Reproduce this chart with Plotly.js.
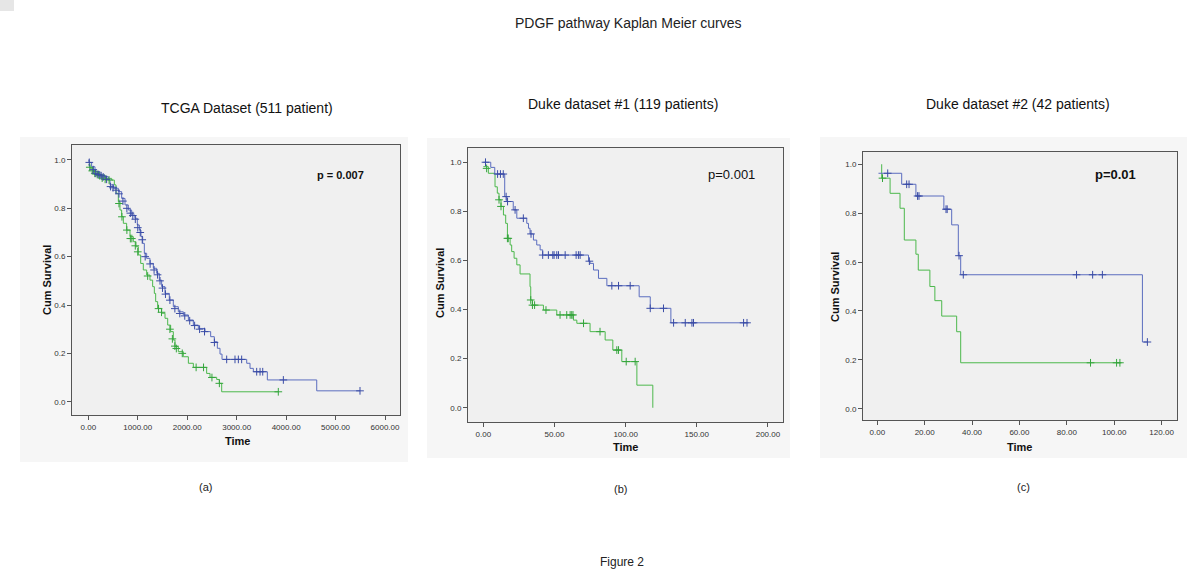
<!DOCTYPE html>
<html>
<head>
<meta charset="utf-8">
<script src="https://cdn.plot.ly/plotly-3.0.1.min.js"></script>
<style>html,body{margin:0;padding:0;background:#fff;}#chart{width:1200px;height:588px;}</style>
</head>
<body>
<div id="chart"></div>
<script>
// ---------- Panel (a): TCGA dataset ----------
const aBlueT = [0,13,67,135,236,337,405,438,506,607,674,742,809,876,944,991,1032,1065,1099,1133,1180,1247,1315,1382,1436,1483,1551,1638,1719,1820,1921,2023,2124,2225,2360,2474,2548,2609,2663,2704,3203,3270,3337,3620,4619,5494];
const aBlueS = [1.0,0.99,0.972,0.952,0.938,0.931,0.917,0.897,0.883,0.869,0.841,0.814,0.793,0.772,0.759,0.731,0.71,0.683,0.655,0.614,0.593,0.572,0.552,0.531,0.503,0.476,0.448,0.421,0.393,0.372,0.359,0.338,0.317,0.303,0.29,0.269,0.248,0.221,0.197,0.175,0.159,0.138,0.124,0.09,0.045,0.045];
const aBlueCensT = [20,100,150,200,260,300,370,450,500,560,620,700,780,850,900,950,1000,1050,1090,1150,1250,1330,1400,1450,1500,1560,1650,1750,1850,1950,2050,2150,2250,2350,2550,2798,2966,3034,3101,3405,3473,3527,3944,5494];
const aBlueCensS = [0.99,0.96,0.945,0.94,0.935,0.93,0.92,0.89,0.885,0.875,0.86,0.83,0.8,0.78,0.77,0.755,0.72,0.7,0.67,0.6,0.57,0.545,0.525,0.5,0.47,0.445,0.42,0.385,0.365,0.355,0.335,0.315,0.3,0.29,0.245,0.175,0.175,0.175,0.175,0.124,0.124,0.124,0.09,0.045];
const aGreenT = [0,34,101,202,337,472,526,560,607,640,674,708,775,843,910,964,1011,1059,1112,1180,1247,1301,1335,1362,1402,1483,1551,1605,1665,1719,1753,1820,1921,2023,2124,2393,2461,2596,2650,2697,3843];
const aGreenS = [0.98,0.966,0.952,0.938,0.924,0.917,0.897,0.862,0.828,0.793,0.766,0.738,0.71,0.683,0.662,0.641,0.607,0.572,0.545,0.524,0.503,0.476,0.448,0.414,0.386,0.366,0.345,0.317,0.29,0.255,0.228,0.207,0.186,0.159,0.142,0.117,0.101,0.092,0.076,0.041,0.041];
const aGreenCensT = [30,80,130,180,230,280,340,420,620,680,780,850,880,950,1000,1200,1420,1480,1650,1700,1750,1780,1900,2180,2330,2500,2650,3842];
const aGreenCensS = [0.97,0.955,0.945,0.94,0.935,0.925,0.92,0.917,0.82,0.765,0.71,0.675,0.675,0.645,0.62,0.52,0.385,0.37,0.3,0.26,0.23,0.22,0.2,0.142,0.142,0.1,0.076,0.041];

// ---------- Panel (b): Duke dataset #1 ----------
const bBlueT = [0,5.2,8,15,16.5,21,23.5,30.5,31.7,32.8,35.2,37.5,39.9,41.7,73.9,75,77.4,80.9,86.8,109.5,117.3,131.8,186.4];
const bBlueS = [1.0,0.979,0.952,0.86,0.84,0.806,0.772,0.751,0.731,0.708,0.683,0.663,0.643,0.622,0.597,0.588,0.561,0.527,0.497,0.452,0.405,0.346,0.346];
const bBlueCensT = [1.5,10,12,14,16,17,22.3,28.1,33.5,41.7,45.7,48.8,49.7,51.6,52.8,57.5,65.2,66.8,68,74.5,90.3,95,103.2,117.3,126.6,133.7,141.9,146.6,147.7,182.9,185.3];
const bBlueCensS = [1.0,0.952,0.952,0.952,0.86,0.84,0.806,0.772,0.708,0.622,0.622,0.622,0.622,0.622,0.622,0.622,0.622,0.622,0.622,0.597,0.497,0.497,0.497,0.405,0.405,0.346,0.346,0.346,0.346,0.346,0.346];
const bGreenT = [0,3.5,8.2,9.8,11,12.4,14.1,15.7,16.9,18.8,19.9,21.6,23.5,25.8,32.8,33.3,34.5,42.2,51.6,63.3,65.7,75,85.6,91,97.3,107.9,119.1];
const bGreenS = [0.982,0.955,0.9,0.874,0.847,0.82,0.785,0.751,0.69,0.663,0.636,0.609,0.582,0.545,0.493,0.439,0.418,0.398,0.378,0.357,0.344,0.31,0.276,0.235,0.188,0.092,0.0];
const bGreenCensT = [2.3,11,12.4,16.9,17.5,33.3,34.5,36,44,53.9,58.6,61,62.1,63,70.4,82,93.8,95,100.4,106.7];
const bGreenCensS = [0.975,0.847,0.82,0.69,0.69,0.439,0.418,0.418,0.398,0.378,0.378,0.378,0.378,0.378,0.344,0.31,0.235,0.235,0.188,0.188];

// ---------- Panel (c): Duke dataset #2 ----------
const cBlueT = [0.5,10.3,16.3,28.1,31.4,34.2,35.2,111.9,114];
const cBlueS = [0.963,0.918,0.87,0.816,0.752,0.626,0.548,0.273,0.273];
const cBlueCensT = [4.4,12.4,13.4,17,17.6,29,29.5,34.5,36.3,84.1,90.9,95,114];
const cBlueCensS = [0.963,0.918,0.918,0.87,0.87,0.816,0.816,0.626,0.548,0.548,0.548,0.548,0.273];
const cGreenT = [1.86,1.86,5.4,9.6,11.4,16.3,17.3,22.2,24.3,27.2,33.5,35.2,103.1];
const cGreenS = [1.0,0.943,0.881,0.82,0.69,0.632,0.567,0.5,0.442,0.379,0.315,0.188,0.188];
const cGreenCensT = [2.2,90,101,102.4];
const cGreenCensS = [0.943,0.188,0.188,0.188];

const titles = ["TCGA Dataset (511 patient)", "Duke dataset #1 (119 patients)", "Duke dataset #2 (42 patients)"];
const pTexts = ["<b>p = 0.007</b>", "p=0.001", "<b>p=0.01</b>"];
const panelLabels = ["(a)", "(b)", "(c)"];
const xTickVals = [[0,1000,2000,3000,4000,5000,6000],[0,50,100,150,200],[0,20,40,60,80,100,120]];
const yTickVals = [0,0.2,0.4,0.6,0.8,1.0];

// ---------- styling / layout ----------
const W = 1200, H = 588;
const BLUE_LINE = '#5b6dbf', BLUE_MARK = '#3a4ca6';
const GREEN_LINE = '#4cb84c', GREEN_MARK = '#34a53c';
const px = v => v / W, py = v => 1 - v / H;

const boxes = [[72,145,400,415],[468,148,783,422],[863,152,1177,420]];
const outers = [[20,137,408,462],[427,138,790,458],[820,137,1187,458]];
const xRanges = [[-330,6303],[-10.8,210.6],[-6.03,126.5]];
const yRanges = [[-0.055,1.062],[-0.058,1.058],[-0.046,1.05]];

const series = [
  [aBlueT,aBlueS,aBlueCensT,aBlueCensS,aGreenT,aGreenS,aGreenCensT,aGreenCensS],
  [bBlueT,bBlueS,bBlueCensT,bBlueCensS,bGreenT,bGreenS,bGreenCensT,bGreenCensS],
  [cBlueT,cBlueS,cBlueCensT,cBlueCensS,cGreenT,cGreenS,cGreenCensT,cGreenCensS]
];

const traces = [];
const layout = {
  width: W, height: H,
  margin: {l:0,r:0,t:0,b:0},
  paper_bgcolor: '#ffffff',
  plot_bgcolor: 'rgba(0,0,0,0)',
  showlegend: false,
  font: {family: 'Liberation Sans, Arial, sans-serif', color: '#333'},
  shapes: [], annotations: []
};

layout.shapes.push({type:'rect', xref:'paper', yref:'paper', x0:0, x1:px(14), y0:py(11), y1:1, fillcolor:'#e6e6e6', line:{width:0}, layer:'below'});

series.forEach((s, i) => {
  const n = i === 0 ? '' : String(i + 1);
  const xa = 'x' + n, ya = 'y' + n;
  const [bT,bS,bCT,bCS,gT,gS,gCT,gCS] = s;
  traces.push({x:gT, y:gS, xaxis:xa, yaxis:ya, mode:'lines', line:{shape:'hv', color:GREEN_LINE, width:1}, hoverinfo:'skip'});
  traces.push({x:bT, y:bS, xaxis:xa, yaxis:ya, mode:'lines', line:{shape:'hv', color:BLUE_LINE, width:1}, hoverinfo:'skip'});
  traces.push({x:gCT, y:gCS, xaxis:xa, yaxis:ya, mode:'markers', marker:{symbol:'cross-thin', size:5.5, color:GREEN_MARK, line:{color:GREEN_MARK, width:1}}, hoverinfo:'skip'});
  traces.push({x:bCT, y:bCS, xaxis:xa, yaxis:ya, mode:'markers', marker:{symbol:'cross-thin', size:5.5, color:BLUE_MARK, line:{color:BLUE_MARK, width:1}}, hoverinfo:'skip'});

  const b = boxes[i], o = outers[i];
  layout.shapes.push({type:'rect', xref:'paper', yref:'paper', x0:px(o[0]), x1:px(o[2]), y0:py(o[3]), y1:py(o[1]), fillcolor:'#f6f6f6', line:{width:0}, layer:'below'});
  layout.shapes.push({type:'rect', xref:'paper', yref:'paper', x0:px(b[0]), x1:px(b[2]), y0:py(b[3]), y1:py(b[1]), fillcolor:'#f0f0f0', line:{width:0}, layer:'below'});

  const axCommon = {showline:true, mirror:true, linecolor:'#555', linewidth:1, showgrid:false, zeroline:false,
                    ticks:'outside', ticklen:4, tickcolor:'#555', tickfont:{size:8, color:'#333'}, fixedrange:true};
  layout['xaxis' + n] = Object.assign({}, axCommon, {domain:[px(b[0]), px(b[2])], range:xRanges[i], anchor:ya,
                    tickmode:'array', tickvals:xTickVals[i], tickformat:'.2f'});
  layout['yaxis' + n] = Object.assign({}, axCommon, {domain:[py(b[3]), py(b[1])], range:yRanges[i], anchor:xa,
                    tickmode:'array', tickvals:yTickVals, tickformat:'.1f'});
});

function ann(text, x, y, size, opts) {
  layout.annotations.push(Object.assign({text:text, xref:'paper', yref:'paper', x:px(x), y:py(y),
    xanchor:'center', yanchor:'middle', showarrow:false, font:{size:size, color:'#222', family:'Liberation Sans, Arial, sans-serif'}}, opts || {}));
}
const narrow = 'Liberation Sans Narrow, Arial Narrow, Liberation Sans, sans-serif';
ann('PDGF pathway Kaplan Meier curves', 628, 23, 14, {font:{size:14, color:'#222', family:narrow}});
const titlePos = [[247,108],[623,104],[1018,104]];
const pPos = [[340,175],[731,174],[1115,174]];
const timePos = [[237,441],[626,447],[1019,447]];
const cumPos = [[47,280],[440,283],[835,287]];
const labPos = [[205,487],[620,489],[1023,487]];
const pSizes = [11,13,13];
for (let i = 0; i < 3; i++) {
  ann(titles[i], titlePos[i][0], titlePos[i][1], 14, {font:{size:14, color:'#111', family:narrow}});
  ann(pTexts[i], pPos[i][0], pPos[i][1], pSizes[i], {font:{size:pSizes[i], color:'#111', family:'Liberation Sans, Arial, sans-serif'}});
  ann('<b>Time</b>', timePos[i][0], timePos[i][1], 11, {font:{size:11, color:'#111', family:'Liberation Sans, Arial, sans-serif'}});
  ann('<b>Cum Survival</b>', cumPos[i][0], cumPos[i][1], 11, {textangle:-90, font:{size:11, color:'#111', family:'Liberation Sans, Arial, sans-serif'}});
  ann(panelLabels[i], labPos[i][0], labPos[i][1], 11, {font:{size:11, color:'#222', family:'Liberation Sans, Arial, sans-serif'}});
}
ann('Figure 2', 622, 562, 12, {font:{size:12, color:'#222', family:'Liberation Sans, Arial, sans-serif'}});

Plotly.newPlot('chart', traces, layout, {staticPlot:true, displayModeBar:false});
</script>
</body>
</html>
